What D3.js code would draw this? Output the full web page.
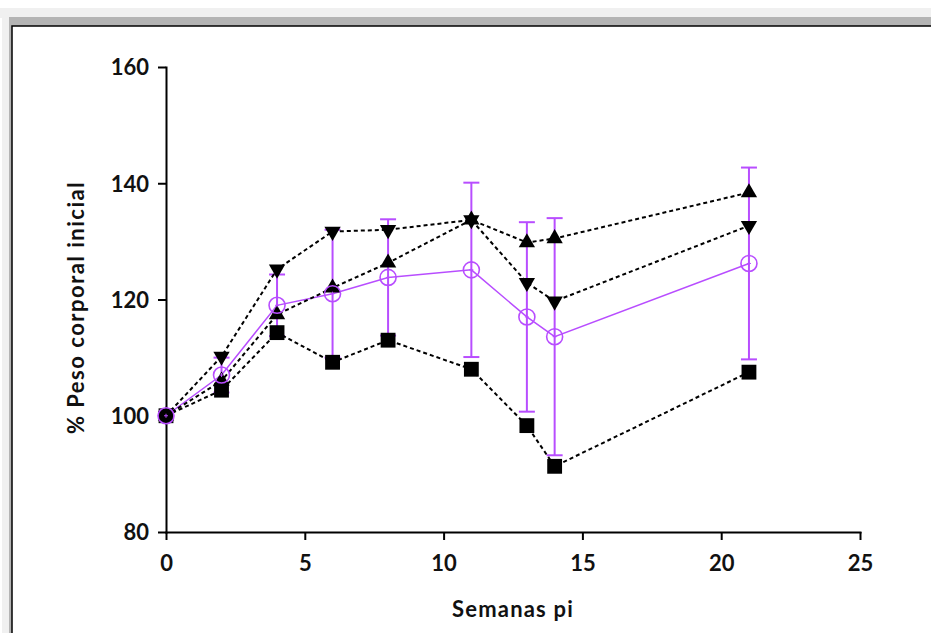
<!DOCTYPE html>
<html lang="es">
<head>
<meta charset="UTF-8">
<title>% Peso corporal inicial</title>
<script src="https://cdnjs.cloudflare.com/ajax/libs/d3/7.8.5/d3.min.js"></script>
<style>
	body { margin: 0; background: #fff; }
	svg { display: block; }
	.axis text { font-family: Lato, "Open Sans", sans-serif; font-weight: 700; font-size: 22px; fill: #111; }
	.axis path, .axis line { stroke: #000; stroke-width: 2; }
	.label { font-family: Lato, "Open Sans", sans-serif; font-weight: 700; font-size: 22px; fill: #111; }
</style>
</head>
<body>
<div id="chart"></div>
<script>
	// semanas post infección
	const weeks = [0, 2, 4, 6, 8, 11, 13, 14, 21];

	const squares  = [100, 104.4, 114.3, 109.2, 113, 108, 98.3, 91.3, 107.5];
	const upTri    = [100, 106, 117.4, 122, 126.3, 133.7, 129.8, 130.5, 138.4];
	const downTri  = [100, 110.2, 125.2, 131.7, 132, 133.7, 122.9, 119.7, 132.7];
	const meanVals = [100, 107, 119, 121, 123.8, 125.1, 117, 113.6, 126.2];
	const sdVals   = [0, 3, 5.3, 11, 10, 15, 16.3, 20.4, 16.5];

	const xTicks = [0, 5, 10, 15, 20, 25];
	const yTicks = [80, 100, 120, 140, 160];

	const W = 931, H = 633;
	const purple = "#b84dff";

	const svg = d3.select("#chart").append("svg")
		.attr("width", W)
		.attr("height", H);

	// window frame
	svg.append("rect").attr("x", 0).attr("y", 8).attr("width", W).attr("height", 10).attr("fill", "#f0f0f0");
	svg.append("rect").attr("x", 2).attr("y", 8).attr("width", 9).attr("height", H).attr("fill", "#f0f0f0");
	svg.append("rect").attr("x", 9).attr("y", 17).attr("width", W).attr("height", 9).attr("fill", "#b4b4b4");
	svg.append("rect").attr("x", 9).attr("y", 17).attr("width", 3).attr("height", H).attr("fill", "#b4b4b4");
	svg.append("rect").attr("x", 12).attr("y", 26).attr("width", W).attr("height", H).attr("fill", "#fff")
		.attr("stroke", "#000").attr("stroke-width", 1.5);

	const x = d3.scaleLinear().domain([0, 25]).range([166, 860]);
	const y = d3.scaleLinear().domain([80, 160]).range([532, 67]);

	const xAxis = svg.append("g")
		.attr("class", "axis")
		.attr("transform", `translate(0,${y(80)})`)
		.call(d3.axisBottom(x).tickValues(xTicks).tickSize(8).tickSizeOuter(0));
	xAxis.selectAll(".tick text").attr("y", 39).attr("dy", 0);

	const yAxis = svg.append("g")
		.attr("class", "axis")
		.attr("transform", `translate(${x(0)},0)`)
		.call(d3.axisLeft(y).tickValues(yTicks).tickSize(8).tickSizeOuter(0));
	yAxis.selectAll(".tick text").attr("x", -17).attr("dy", "0.36em");

	svg.selectAll(".axis .domain").attr("stroke-linecap", "square");

	svg.append("text")
		.attr("class", "label")
		.attr("x", (x(0) + x(25)) / 2)
		.attr("y", 617)
		.attr("text-anchor", "middle")
		.attr("letter-spacing", "1.2px")
		.text("Semanas pi");

	svg.append("text")
		.attr("class", "label")
		.attr("transform", `translate(84,${(y(80) + y(160)) / 2 + 8}) rotate(-90)`)
		.attr("text-anchor", "middle")
		.attr("letter-spacing", "1.5px")
		.text("% Peso corporal inicial");

	const line = d3.line().x((d, i) => x(weeks[i])).y(d => y(d));

	// purple mean series with error bars
	const g = svg.append("g");
	const pts = weeks.map((w, i) => ({ w, m: meanVals[i], s: sdVals[i] }));

	g.selectAll(".err")
		.data(pts.filter(d => d.s > 0))
		.enter().append("g")
		.each(function(d) {
			const e = d3.select(this);
			e.append("line").attr("x1", x(d.w)).attr("x2", x(d.w))
				.attr("y1", y(d.m + d.s)).attr("y2", y(d.m - d.s));
			e.append("line").attr("x1", x(d.w) - 8).attr("x2", x(d.w) + 8)
				.attr("y1", y(d.m + d.s)).attr("y2", y(d.m + d.s));
			e.append("line").attr("x1", x(d.w) - 8).attr("x2", x(d.w) + 8)
				.attr("y1", y(d.m - d.s)).attr("y2", y(d.m - d.s));
		})
		.attr("stroke", purple).attr("stroke-width", 2);

	g.append("path")
		.datum(meanVals)
		.attr("d", line)
		.attr("fill", "none")
		.attr("stroke", purple)
		.attr("stroke-width", 1.5);

	// black dashed series
	const series = [
		{ vals: squares, sym: d3.symbolSquare, size: 220 },
		{ vals: upTri, sym: d3.symbolTriangle, size: 115, rot: 0 },
		{ vals: downTri, sym: d3.symbolTriangle, size: 115, rot: 180 }
	];

	series.forEach(s => {
		svg.append("path")
			.datum(s.vals)
			.attr("d", line)
			.attr("fill", "none")
			.attr("stroke", "#000")
			.attr("stroke-width", 2)
			.attr("stroke-dasharray", "4,3");
	});

	series.forEach(s => {
		svg.selectAll(null)
			.data(s.vals)
			.enter().append("path")
			.attr("d", d3.symbol().type(s.sym).size(s.size))
			.attr("transform", (d, i) => `translate(${x(weeks[i])},${y(d)}) rotate(${s.rot || 0})`)
			.attr("fill", "#000");
	});

	// open circles with center mark
	const c = svg.selectAll(".mean")
		.data(pts)
		.enter().append("g")
		.attr("transform", d => `translate(${x(d.w)},${y(d.m)})`);
	c.append("circle").attr("r", 8).attr("fill", "none").attr("stroke", purple).attr("stroke-width", 1.6);
	c.append("path").attr("d", "M-2,0H2M0,-2V2").attr("stroke", purple).attr("stroke-width", 1);
</script>
</body>
</html>
